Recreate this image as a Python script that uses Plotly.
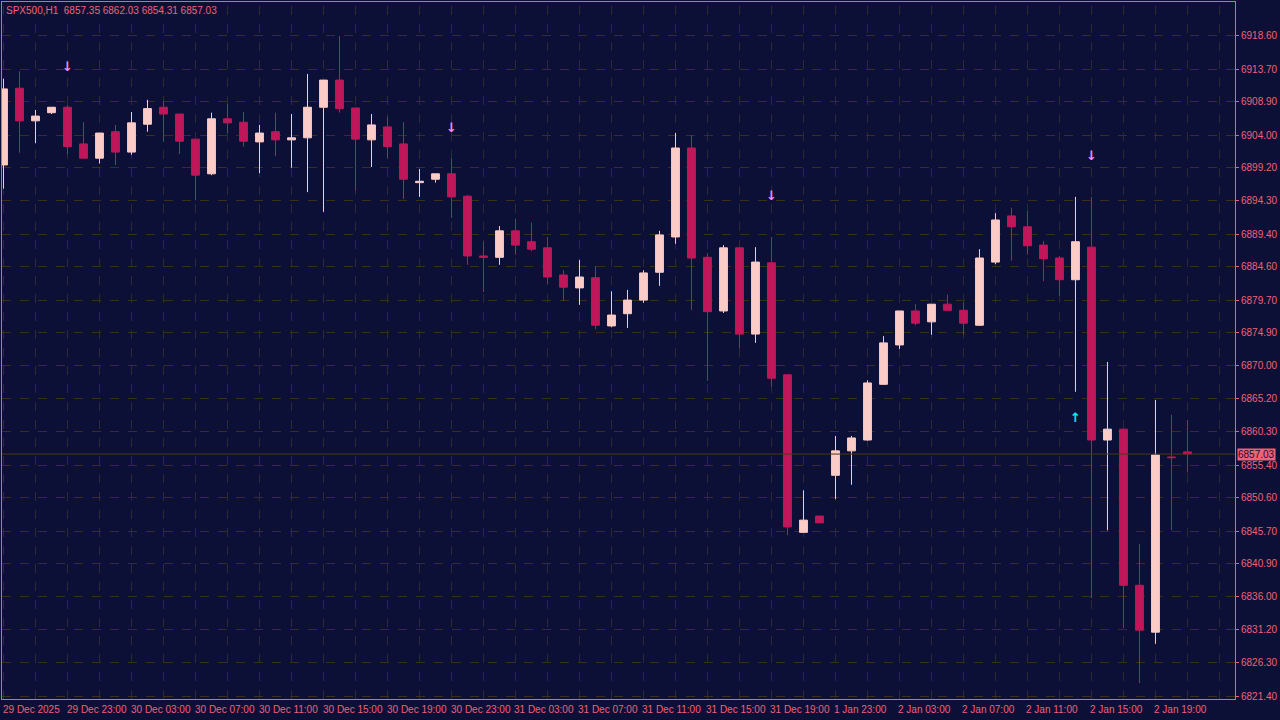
import plotly.graph_objects as go

# hourly SPX500 candles, index 0 = 29 Dec 2025 19:00
opens = [6899.6, 6910.9, 6906.1, 6907.3, 6908.1, 6902.7, 6900.6, 6904.5, 6901.5, 6905.6,
         6908.1, 6907.1, 6903.4, 6898.3, 6906.4, 6905.9, 6903.0, 6904.5, 6903.3, 6903.6,
         6908.1, 6912.1, 6908.0, 6903.3, 6905.2, 6902.7, 6897.0, 6897.5, 6898.3, 6895.0,
         6886.2, 6886.0, 6889.9, 6888.3, 6887.4, 6883.4, 6881.5, 6883.0, 6875.9, 6877.7,
         6879.7, 6883.8, 6889.0, 6902.1, 6886.0, 6878.1, 6887.4, 6874.7, 6885.2, 6868.7,
         6845.5, 6847.9, 6853.9, 6857.5, 6859.1, 6867.3, 6873.1, 6878.1, 6876.5, 6879.1,
         6878.2, 6876.0, 6885.3, 6892.1, 6890.5, 6887.8, 6885.9, 6882.7, 6887.5, 6859.1,
         6860.7, 6837.7, 6830.8, 6856.6, 6857.35]
highs = [6912.3, 6913.4, 6907.7, 6908.1, 6908.4, 6905.9, 6904.3, 6905.5, 6907.4, 6909.2,
         6909.0, 6907.1, 6903.4, 6907.3, 6908.6, 6907.4, 6905.5, 6907.3, 6907.1, 6913.0,
         6912.1, 6918.6, 6908.0, 6907.1, 6906.7, 6905.9, 6899.0, 6898.3, 6900.6, 6895.2,
         6888.3, 6890.6, 6891.7, 6891.1, 6889.0, 6884.1, 6885.6, 6884.7, 6881.0, 6881.2,
         6884.1, 6889.9, 6904.3, 6904.0, 6886.6, 6887.8, 6887.4, 6887.5, 6889.0, 6868.7,
         6851.7, 6847.9, 6859.7, 6859.7, 6867.9, 6874.4, 6878.1, 6879.1, 6879.1, 6880.5,
         6879.4, 6887.2, 6892.5, 6893.3, 6892.8, 6888.4, 6886.2, 6894.9, 6894.9, 6870.6,
         6860.7, 6843.8, 6865.0, 6862.8, 6862.03]
lows = [6896.1, 6901.4, 6902.8, 6907.1, 6901.2, 6900.6, 6899.8, 6899.6, 6901.1, 6904.5,
        6903.0, 6901.2, 6894.4, 6898.1, 6904.3, 6902.3, 6898.4, 6900.9, 6899.2, 6895.6,
        6892.7, 6907.3, 6895.8, 6899.3, 6900.6, 6894.6, 6894.9, 6897.0, 6891.8, 6884.9,
        6880.9, 6884.9, 6886.4, 6886.9, 6882.1, 6879.6, 6879.0, 6875.4, 6875.7, 6875.6,
        6879.3, 6881.8, 6888.0, 6878.2, 6867.8, 6877.8, 6872.6, 6873.4, 6866.9, 6845.1,
        6845.5, 6846.9, 6850.4, 6852.5, 6859.0, 6867.2, 6872.5, 6876.0, 6874.6, 6878.2,
        6874.6, 6875.9, 6885.0, 6885.5, 6886.4, 6882.5, 6880.3, 6866.2, 6835.8, 6845.8,
        6831.4, 6823.3, 6829.1, 6845.8, 6854.31]
closes = [6910.8, 6906.1, 6906.8, 6908.1, 6902.3, 6900.6, 6904.3, 6901.5, 6905.8, 6907.9,
          6907.1, 6903.1, 6898.1, 6906.4, 6905.8, 6903.1, 6904.3, 6903.3, 6903.6, 6908.1,
          6912.1, 6907.9, 6903.4, 6905.5, 6902.3, 6897.5, 6897.2, 6898.3, 6894.9, 6886.2,
          6886.0, 6889.9, 6887.8, 6887.2, 6883.1, 6881.6, 6883.1, 6876.0, 6877.5, 6879.7,
          6883.7, 6889.3, 6902.1, 6885.9, 6878.0, 6887.4, 6874.7, 6885.3, 6868.2, 6846.3,
          6847.3, 6846.9, 6857.5, 6859.4, 6867.5, 6873.4, 6878.1, 6876.3, 6879.1, 6878.2,
          6876.3, 6885.9, 6891.5, 6890.5, 6887.7, 6885.8, 6882.7, 6888.3, 6859.1, 6860.7,
          6837.7, 6831.1, 6856.9, 6856.5, 6857.03]

time_labels = ["29 Dec 2025", "29 Dec 23:00", "30 Dec 03:00", "30 Dec 07:00", "30 Dec 11:00",
               "30 Dec 15:00", "30 Dec 19:00", "30 Dec 23:00", "31 Dec 03:00", "31 Dec 07:00",
               "31 Dec 11:00", "31 Dec 15:00", "31 Dec 19:00", "1 Jan 23:00", "2 Jan 03:00",
               "2 Jan 07:00", "2 Jan 11:00", "2 Jan 15:00", "2 Jan 19:00"]
label_bars = [0, 4, 8, 12, 16, 20, 24, 28, 32, 36, 40, 44, 48, 52, 56, 60, 64, 68, 72]

price_ticks = [6918.60, 6913.70, 6908.90, 6904.00, 6899.20, 6894.30, 6889.40, 6884.60,
               6879.70, 6874.90, 6870.00, 6865.20, 6860.30, 6855.40, 6850.60, 6845.70,
               6840.90, 6836.00, 6831.20, 6826.30, 6821.40]

sell_bars = [4, 28, 48, 68]
sell_prices = [6913.9, 6905.0, 6894.9, 6900.8]
buy_bars = [67]
buy_prices = [6862.3]

header = "SPX500,H1  6857.35 6862.03 6854.31 6857.03"
last_price = 6857.03

BG = "#0d1036"
BULL = "#fbcbc6"
BEAR = "#c0175a"
HGRID = "#3a3018"
VGRID = "#2c2c34"
TXT = "#f0607a"
BORDER = "#f0607a"
FONT = "Liberation Sans"

n = len(opens)
idx = list(range(n))

fig = go.Figure()
fig.add_trace(go.Candlestick(
    x=idx, open=opens, high=highs, low=lows, close=closes,
    increasing=dict(fillcolor=BULL, line=dict(color=BULL, width=1)),
    decreasing=dict(fillcolor=BEAR, line=dict(color=BEAR, width=1)),
    whiskerwidth=0, hoverinfo="skip", showlegend=False,
))
fig.add_trace(go.Scatter(
    x=sell_bars, y=sell_prices, mode="text", text=["<b>↓</b>"] * len(sell_bars),
    textfont=dict(color="#f08cf0", size=13, family="DejaVu Sans"), showlegend=False,
))
fig.add_trace(go.Scatter(
    x=buy_bars, y=buy_prices, mode="text", text=["<b>↑</b>"] * len(buy_bars),
    textfont=dict(color="#00e8f0", size=13, family="DejaVu Sans"), showlegend=False,
))

# vertical grid as dashed lines every 2 bars
for v in range(0, n + 3, 2):
    fig.add_shape(type="line", x0=v, x1=v, yref="paper", y0=0, y1=1, layer="below",
                  line=dict(color=VGRID, width=1, dash="dash"))

# current price line
fig.add_shape(type="line", xref="paper", x0=0, x1=1, y0=last_price, y1=last_price,
              line=dict(color="#4a3a1a", width=1))
fig.add_annotation(xref="paper", x=1.0015, y=last_price, text=f"{last_price:.2f}",
                   showarrow=False, xanchor="left", bgcolor=TXT,
                   font=dict(color="#1a1030", size=10, family=FONT),
                   borderpad=0)

for b, lab in zip(label_bars, time_labels):
    fig.add_annotation(x=b, xshift=-3, yref="paper", y=0, yshift=-3, text=lab,
                       showarrow=False, xanchor="left", yanchor="top",
                       font=dict(color=TXT, size=10, family=FONT))

fig.add_annotation(xref="paper", yref="paper", x=0.002, y=1, yshift=-1, text=header,
                   showarrow=False, xanchor="left", yanchor="top",
                   font=dict(color=TXT, size=10, family=FONT))

fig.update_layout(
    width=1280, height=720,
    margin=dict(l=2, r=45, t=2, b=21, autoexpand=False),
    paper_bgcolor=BG, plot_bgcolor=BG,
    xaxis=dict(range=[-0.094, 76.97], rangeslider=dict(visible=False),
               showticklabels=False, showgrid=False,
               zeroline=False, showline=True, linecolor=BORDER, mirror=True,
               ticks=""),
    yaxis=dict(range=[6820.96, 6923.6], side="right", tickvals=price_ticks,
               ticktext=[f"{p:.2f}" for p in price_ticks],
               tickfont=dict(color=TXT, size=10, family=FONT),
               showgrid=True, gridcolor=HGRID, griddash="dash", gridwidth=1,
               zeroline=False, showline=True, linecolor=BORDER, mirror=True,
               ticks="outside", ticklen=3, tickcolor=TXT),
    font=dict(family=FONT),
)

fig.write_html("out.html", config={"displayModeBar": False},
               post_script="document.body.style.margin='0';")
